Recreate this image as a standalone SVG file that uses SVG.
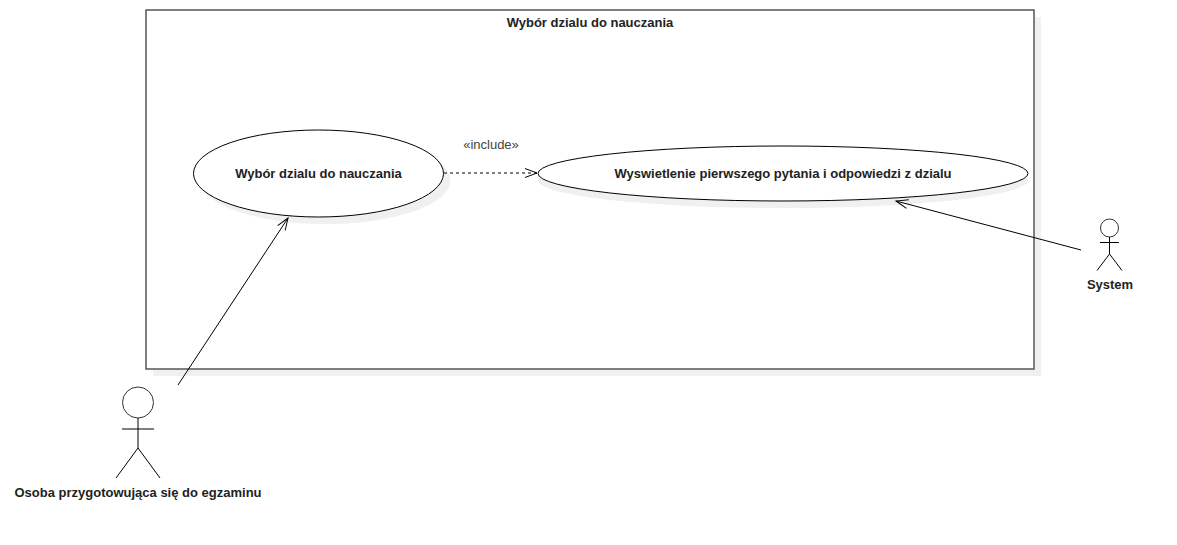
<svg xmlns="http://www.w3.org/2000/svg" width="1177" height="545" viewBox="0 0 1177 545">
<style>
text{font-family:"Liberation Sans",Arial,sans-serif;font-size:13px;fill:#222;text-anchor:middle}
.b{font-weight:bold}
.sh{fill:#f0f0f0;stroke:none}
.uc{fill:#fff;stroke:#000;stroke-width:1}
.a{fill:none;stroke:#000;stroke-width:1}
.head{fill:#fff;stroke:#333;stroke-width:1}
.c{fill:none;stroke:#000;stroke-width:1}
</style>
<defs>
<marker id="open" markerWidth="16" markerHeight="14" refX="13" refY="6" orient="auto" markerUnits="userSpaceOnUse"><path d="M1 1.500L13 6L1 10.500" fill="none" stroke="#000"/></marker>
</defs>
<rect width="1177" height="545" fill="#fff"/>
<g id="boundary">
<rect class="sh" x="153" y="17" width="888" height="359"/>
<rect x="146" y="10" width="888" height="359" fill="#fff" stroke="#555" stroke-width="1.500"/>
<text class="b" x="590" y="27">Wybór dzialu do nauczania</text>
</g>
<g id="usecase-wybor">
<ellipse class="sh" cx="325.500" cy="180.500" rx="125" ry="43.500"/>
<ellipse class="uc" cx="318.500" cy="173.500" rx="125" ry="43.500"/>
<text class="b" x="318.500" y="178">Wybór dzialu do nauczania</text>
</g>
<g id="usecase-wyswietlenie">
<ellipse class="sh" cx="783" cy="180.500" rx="245" ry="27.500"/>
<ellipse class="uc" cx="783" cy="173.500" rx="245" ry="27.500"/>
<text class="b" x="783" y="177.500">Wyswietlenie pierwszego pytania i odpowiedzi z dzialu</text>
</g>
<g id="actor-osoba">
<circle class="head" cx="138" cy="402.500" r="15.500"/>
<path class="a" d="M138 418V448M122 429H154M138 448L116 478M138 448L160 478"/>
<text class="b" x="138" y="496.500">Osoba przygotowująca się do egzaminu</text>
</g>
<g id="actor-system">
<circle class="head" cx="1109.500" cy="228" r="9"/>
<path class="a" d="M1109.500 237V254M1100 242.500H1119M1109.500 254L1097 270.500M1109.500 254L1122 270.500"/>
<text class="b" x="1110" y="289">System</text>
</g>
<g id="connectors">
<path class="c" stroke="#333" stroke-dasharray="3 3" stroke-width="1.500" d="M444 173H537" marker-end="url(#open)"/>
<text x="491" y="149" style="fill:#444">«include»</text>
<path class="c" d="M178 385L288 218" marker-end="url(#open)"/>
<path class="c" d="M1081 250L896 201" marker-end="url(#open)"/>
</g>
</svg>
